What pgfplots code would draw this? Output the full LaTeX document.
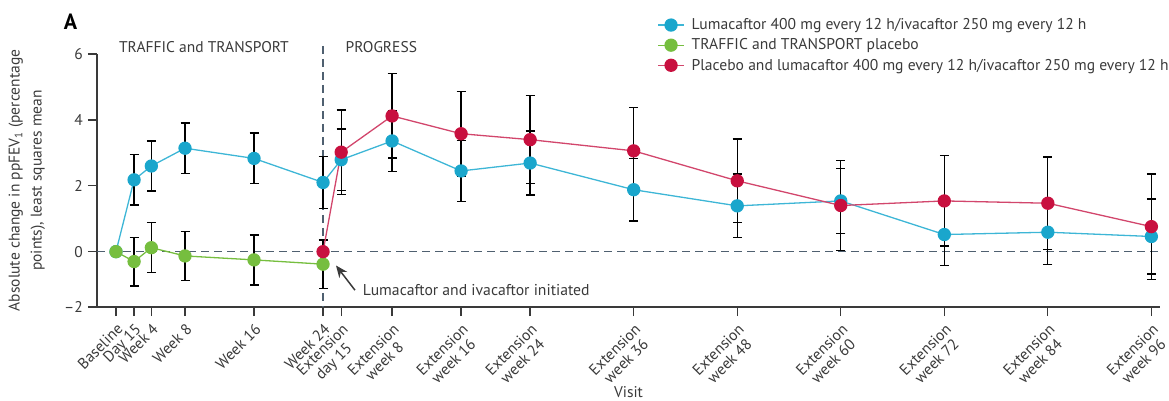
\documentclass[border=0pt]{standalone}
\usepackage{pgfplots}
\pgfplotsset{compat=1.18}
\usepackage{pgfplotstable}
\usepackage{fontspec}
\setmainfont{PT Sans}
\usetikzlibrary{arrows.meta}
\definecolor{cblue}{HTML}{1AA6CC}
\definecolor{cgreen}{HTML}{76BE3F}
\definecolor{cred}{HTML}{C8103F}
\definecolor{lred}{HTML}{D2466C}
\definecolor{lblue}{HTML}{3DB6D6}
\definecolor{dashcol}{HTML}{4F6070}
\definecolor{txt}{HTML}{3A3A3A}

\pgfplotstableread{
x y e
0 0 0
2.1 2.18 0.76
4.1 2.60 0.76
8 3.14 0.77
16 2.83 0.77
24 2.10 0.78
26.1 2.79 0.93
32 3.36 0.93
40 2.45 0.93
48 2.69 0.97
60 1.88 0.95
72 1.39 0.97
84 1.54 0.98
96 0.52 0.95
108 0.59 0.97
120 0.46 1.14
}\bluedata
\pgfplotstableread{
x y e
0 0 0
2.1 -0.30 0.74
4.1 0.12 0.76
8 -0.13 0.75
16 -0.25 0.76
24 -0.38 0.73
}\greendata
\pgfplotstableread{
x y e
24 0 0
26.1 3.02 1.28
32 4.12 1.28
40 3.58 1.28
48 3.40 1.33
60 3.06 1.32
72 2.15 1.27
84 1.40 1.36
96 1.54 1.37
108 1.47 1.40
120 0.76 1.60
}\reddata

\begin{document}
\begin{tikzpicture}
\begin{axis}[
  at={(0,0)}, anchor=south west,
  scale only axis, width=1063pt, height=253pt,
  xmin=-2.2, xmax=121, ymin=-1.68, ymax=6,
  axis x line*=bottom, axis y line*=left,
  axis line style={-, line width=1.3pt, color=txt},
  clip=false,
  tick align=outside, major tick length=9pt,
  tick style={line width=1.3pt, color=txt},
  xtick={0,2.1,4.1,8,16,24,26.1,32,40,48,60,72,84,96,108,120},
  xticklabels={Baseline,Day 15,Week 4,Week 8,Week 16,Week 24,{Extension\\day 15},{Extension\\week 8},{Extension\\week 16},{Extension\\week 24},{Extension\\week 36},{Extension\\week 48},{Extension\\week 60},{Extension\\week 72},{Extension\\week 84},{Extension\\week 96}},
  xticklabel style={rotate=45, anchor=north east, align=center, font=\fontsize{15.5}{16}\selectfont, text=txt, inner sep=4.5pt},
  ytick={-1.68,0,2,4,6},
  yticklabels={--2,0,2,4,6},
  yticklabel style={font=\fontsize{15.5}{17}\selectfont, text=txt, inner sep=5pt},
  xlabel={Visit},
  xlabel style={at={(rel axis cs:0.5,-0.335)}, anchor=center, font=\fontsize{15.5}{17}\selectfont, text=txt},
  ylabel={Absolute change in ppFEV\textsubscript{1} (percentage\\points), least squares mean},
  ylabel style={at={(rel axis cs:-0.066,0.50)}, anchor=center, align=center, font=\fontsize{15.5}{22}\selectfont, text=txt},
  legend style={at={(rel axis cs:0.527,1.148)}, anchor=north west, draw=none, fill=none,
    font=\fontsize{15.6}{18}\selectfont, text=txt, row sep=3.5pt, inner sep=0pt,
    /tikz/every odd column/.append style={column sep=5pt}},
  legend cell align=left,
  legend image code/.code={\draw[mark repeat=2,mark phase=2] plot coordinates {(0pt,0pt) (13pt,0pt) (26pt,0pt)};},
  error bars/error bar style={black, line width=1.3pt, solid},
  error bars/error mark options={rotate=90, mark size=4.5pt, line width=1.3pt, black},
]
% reference lines
\draw[dashcol, line width=1.3pt, dash pattern=on 8pt off 5pt] (axis cs:-2.2,0) -- (axis cs:121,0);
\draw[dashcol, line width=1.3pt, dash pattern=on 8pt off 5pt] (axis cs:24,6.25) -- (axis cs:24,-1.68);

\addplot[lblue, line width=1.3pt, mark=*, mark size=6pt, mark options={fill=cblue, draw=cblue},
  error bars/.cd, y dir=both, y explicit] table[x=x, y=y, y error=e] {\bluedata};
\addlegendentry{Lumacaftor 400 mg every 12 h/ivacaftor 250 mg every 12 h}
\addplot[cgreen, line width=1.3pt, mark=*, mark size=6pt, mark options={fill=cgreen, draw=cgreen},
  error bars/.cd, y dir=both, y explicit] table[x=x, y=y, y error=e] {\greendata};
\addlegendentry{TRAFFIC and TRANSPORT placebo}
\addplot[lred, line width=1.3pt, mark=*, mark size=6pt, mark options={fill=cred, draw=cred},
  error bars/.cd, y dir=both, y explicit] table[x=x, y=y, y error=e] {\reddata};
\addlegendentry{Placebo and lumacaftor 400 mg every 12 h/ivacaftor 250 mg every 12 h}

\node[text=txt, font=\fontsize{15.5}{17}\selectfont] at (axis cs:10.2,6.22) {TRAFFIC and TRANSPORT};
\node[text=txt, font=\fontsize{15.5}{17}\selectfont, anchor=west, inner sep=0pt] at (axis cs:26.6,6.22) {PROGRESS};
\node[text=black, font=\fontsize{22}{24}\selectfont\bfseries] at (rel axis cs:-0.025,1.126) {A};
\draw[-{Stealth[length=12pt,width=10pt]}, line width=1.5pt, color=txt] (axis cs:27.7,-1.17) -- (axis cs:25.5,-0.42);
\node[text=txt, font=\fontsize{15.7}{17}\selectfont, anchor=west, inner sep=0pt] at (axis cs:28.6,-1.17) {Lumacaftor and ivacaftor initiated};
\end{axis}
\pgfresetboundingbox
\path (-97pt,307pt) rectangle (1072pt,-94pt);
\end{tikzpicture}
\end{document}
